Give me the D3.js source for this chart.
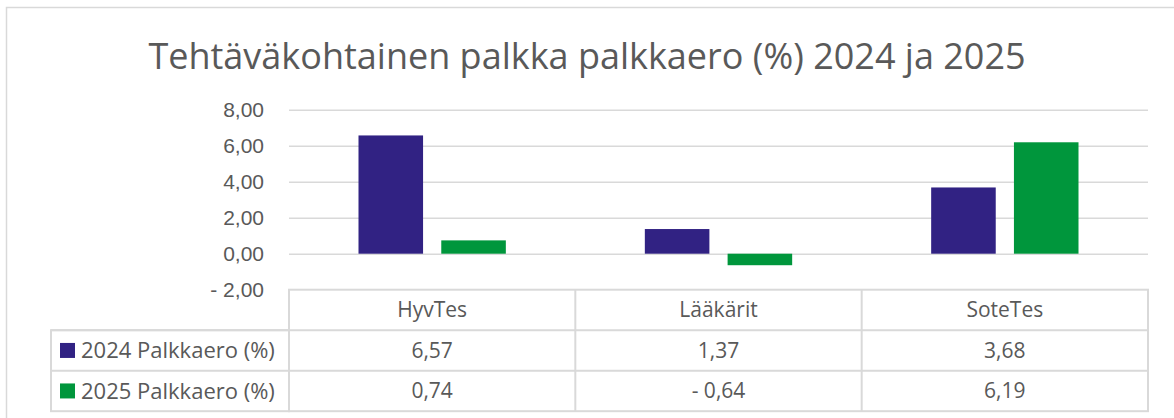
<!DOCTYPE html>
<html>
<head>
<meta charset="utf-8">
<script src="https://cdn.jsdelivr.net/npm/d3@7"></script>
<style>
  body { margin: 0; background: #fff; }
  svg { font-family: "Open Sans", "Noto Sans", sans-serif; }
  .tick-label { fill: #595959; font-size: 21px; }
  .cell-text { fill: #595959; font-size: 21px; }
  .legend-text { fill: #595959; font-size: 22px; }
  .chart-title { fill: #595959; font-size: 36px; }
</style>
</head>
<body>
<script>
// Palkkaero chart with data table

// Data
const categories = ["HyvTes", "Lääkärit", "SoteTes"];
const seriesNames = ["2024 Palkkaero (%)", "2025 Palkkaero (%)"];
const values2024 = [6.57, 1.37, 3.68];
const values2025 = [0.74, -0.64, 6.19];
const yTicks = [-2, 0, 2, 4, 6, 8];
const colors = ["#312283", "#00963c"];

const w = 1174;
const h = 418;
const plotLeft = 289;
const plotRight = 1148;
const plotTop = 109.7;
const plotBottom = 289.7;
const rowH = 40.5;
const legendLeft = 51;

// Finnish number format, "- 0,64"
const fmt = d => (d < 0 ? "- " : "") + Math.abs(d).toFixed(2).replace(".", ",");

const series = [values2024, values2025];

const svg = d3.select("body")
  .append("svg")
  .attr("width", w)
  .attr("height", h);

// outer chart border
svg.append("rect")
  .attr("x", 6.5).attr("y", 7.5)
  .attr("width", 1300).attr("height", 600)
  .attr("fill", "none")
  .attr("stroke", "#d9d9d9")
  .attr("stroke-width", 1.5);

// Scales
const yScale = d3.scaleLinear()
  .domain([d3.min(yTicks), d3.max(yTicks)])
  .range([plotBottom, plotTop]);

const xScale = d3.scaleBand()
  .domain(categories)
  .range([plotLeft, plotRight]);

const x1 = d3.scaleBand()
  .domain([0, 1])
  .range([69.5, xScale.bandwidth() - 69.5])
  .paddingInner(0.22);

// Gridlines
const grid = d3.axisLeft(yScale)
  .tickValues(yTicks.filter(t => t > d3.min(yTicks)))
  .tickSize(-(plotRight - plotLeft))
  .tickFormat("");
svg.append("g")
  .attr("transform", "translate(" + plotLeft + ",0)")
  .call(grid)
  .call(g => g.select(".domain").remove())
  .call(g => g.selectAll("line").attr("stroke", "#d9d9d9").attr("stroke-width", 1.5));

// Y axis labels
const leftAxis = d3.axisLeft(yScale)
  .tickValues(yTicks)
  .tickSize(0)
  .tickPadding(25)
  .tickFormat(fmt);
svg.append("g")
  .attr("transform", "translate(" + plotLeft + ",0)")
  .call(leftAxis)
  .call(g => g.select(".domain").remove())
  .call(g => g.selectAll("text")
    .attr("class", "tick-label")
    .attr("font-family", null)
    .attr("font-size", null)
    .attr("fill", null));

// Bars
series.forEach((vals, si) => {
  svg.append("g")
    .selectAll("rect")
    .data(vals)
    .join("rect")
    .attr("x", (d, i) => xScale(categories[i]) + x1(si))
    .attr("width", x1.bandwidth())
    .attr("y", d => yScale(Math.max(0, d)))
    .attr("height", d => Math.abs(yScale(d) - yScale(0)))
    .attr("fill", colors[si]);
});

// Data table
const tableTop = plotBottom;
const lineColor = "#d9d9d9";
const tbl = svg.append("g")
  .attr("stroke", lineColor)
  .attr("stroke-width", 2)
  .attr("fill", "none");

// header row box
tbl.append("rect")
  .attr("x", plotLeft).attr("y", tableTop)
  .attr("width", plotRight - plotLeft).attr("height", rowH * 3);
// legend column box
tbl.append("rect")
  .attr("x", legendLeft).attr("y", tableTop + rowH)
  .attr("width", plotLeft - legendLeft).attr("height", rowH * 2);
// horizontal row lines
[1, 2].forEach(r => {
  tbl.append("line")
    .attr("x1", legendLeft).attr("x2", plotRight)
    .attr("y1", tableTop + rowH * r).attr("y2", tableTop + rowH * r);
});
// vertical category dividers
categories.slice(1).forEach(c => {
  tbl.append("line")
    .attr("x1", xScale(c)).attr("x2", xScale(c))
    .attr("y1", tableTop).attr("y2", tableTop + rowH * 3);
});

// header text
svg.append("g")
  .selectAll("text")
  .data(categories)
  .join("text")
  .attr("class", "cell-text")
  .attr("x", d => xScale(d) + xScale.bandwidth() / 2)
  .attr("y", tableTop + rowH / 2)
  .attr("dy", "0.35em")
  .attr("text-anchor", "middle")
  .text(d => d);

// series rows
series.forEach((vals, si) => {
  const cy = tableTop + rowH * (si + 1) + rowH / 2;
  svg.append("rect")
    .attr("x", 60).attr("y", cy - 7.5)
    .attr("width", 15).attr("height", 15)
    .attr("fill", colors[si]);
  svg.append("text")
    .attr("class", "legend-text")
    .attr("x", 81).attr("y", cy)
    .attr("dy", "0.35em")
    .text(seriesNames[si]);
  svg.append("g")
    .selectAll("text")
    .data(vals)
    .join("text")
    .attr("class", "cell-text")
    .attr("x", (d, i) => xScale(categories[i]) + xScale.bandwidth() / 2)
    .attr("y", cy)
    .attr("dy", "0.35em")
    .attr("text-anchor", "middle")
    .text(fmt);
});

// Chart title
svg.append("text")
  .attr("class", "chart-title")
  .attr("x", 587)
  .attr("y", 69)
  .attr("text-anchor", "middle")
  .text("Tehtäväkohtainen palkka palkkaero (%) 2024 ja 2025");
</script>
</body>
</html>
